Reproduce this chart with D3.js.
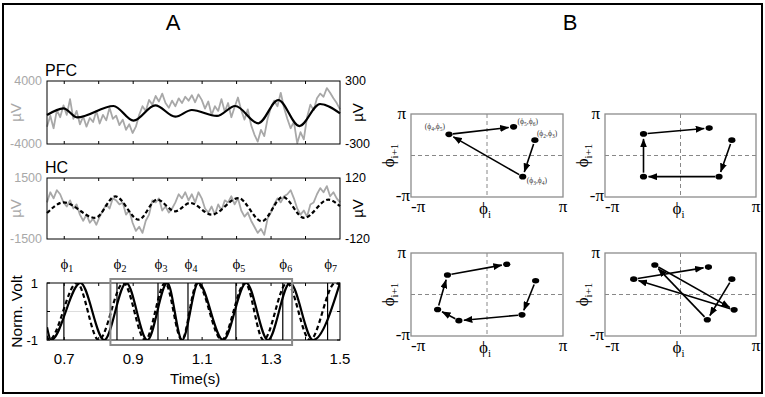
<!DOCTYPE html>
<html><head><meta charset="utf-8">
<script src="https://cdn.jsdelivr.net/npm/d3@7/dist/d3.min.js"></script>
<style>body{margin:0;background:#fff}svg{display:block}</style>
</head><body>
<svg id="c" width="765" height="397"></svg>
<script>
// ---------------- DATA ----------------
const timeDomain = [0.65, 1.5];
const xTicks = [0.7, 0.8, 0.9, 1.0, 1.1, 1.2, 1.3, 1.4];
const xTickLabels = [0.7, 0.9, 1.1, 1.3, 1.5];
const pfcRange = [-4000, 4000], pfcFiltRange = [-300, 300];
const hcRange = [-1500, 1500], hcFiltRange = [-120, 120];
const pfcTickLabels = ["4000", "-4000"], pfcFiltTickLabels = ["300", "-300"];
const hcTickLabels = ["1500", "-1500"], hcFiltTickLabels = ["120", "-120"];

// raw LFP (µV), evenly sampled over the time window
const pfcRaw = [-1800,-400,-2000,300,-600,900,-300,1700,-800,200,-1500,-500,-1800,-700,-1200,200,-1400,-300,-1000,600,
 -800,-400,-1600,-900,-2200,-1500,-2600,-1800,-300,800,200,1600,1000,2100,1400,2400,1200,600,1500,800,
 1800,1200,2000,1500,2200,1300,2300,1600,500,1400,-300,800,200,1700,100,1200,-600,700,1900,300,
 -900,400,-1600,-2800,-3700,-2200,-3000,-800,600,1500,800,2500,600,-800,-2000,-1200,-3900,-2500,-3400,-600,
 1000,300,1800,2400,2000,3100,2500,1800,1200,400];
const hcRaw = [300,800,500,900,700,300,100,400,0,200,-300,-600,-300,-700,-500,-800,-400,-100,200,0,
 500,400,200,300,-300,-100,-700,-1100,-900,-1200,-600,-300,400,300,500,-100,100,-200,0,300,
 700,500,800,400,700,300,800,500,0,-200,100,-300,200,-100,400,300,600,200,500,-100,
 -400,-200,-600,-900,-1200,-1000,-1300,-500,-200,200,500,300,600,700,900,500,0,-300,-100,-400,
 200,300,700,1000,800,1100,600,800,500,300];

// theta-filtered signals (µV): extremum times and values
const pfcFiltT = [0.65,0.698,0.737,0.843,0.901,0.964,1.022,1.070,1.143,1.196,1.263,1.321,1.382,1.442,1.5];
const pfcFiltV = [-24,40,-46,62,-78,68,-40,24,-33,62,-103,119,-129,81,-8];
const hcFiltT = [0.65,0.698,0.790,0.848,0.916,0.969,1.022,1.065,1.128,1.205,1.273,1.334,1.396,1.466,1.5];
const hcFiltV = [-18,24,-37,48,-44,35,-11,22,-24,41,-50,45,-37,35,9];

// normalized theta (solid = PFC, dashed = HC)
const pfcNormT = [0.65,0.662,0.747,0.816,0.880,0.941,0.999,1.042,1.089,1.161,1.228,1.291,1.355,1.422,1.5];
const pfcNormV = [-0.55,-1,1,-1,1,-1,1,-1,1,-1,1,-1,1,-1,1];
const hcNormT = [0.65,0.656,0.737,0.800,0.872,0.935,0.993,1.041,1.086,1.157,1.225,1.278,1.346,1.413,1.486,1.5];
const hcNormV = [-0.85,-1,1,-1,1,-1,1,-1,1,-1,1,-1,1,-1,1,0.95];
const normTicks = [-1, 0, 1];
const phiTimes = [0.699, 0.853, 0.972, 1.059, 1.198, 1.334, 1.464];
const phiLabels = ["1","2","3","4","5","6","7"];
const windowT = [0.834, 1.361];

// Panel B return maps: (phi_i, phi_i+1) in units of pi
const mapTL = [[0.63,0.37],[0.47,-0.51],[-0.50,0.51],[0.35,0.69]];
const mapTLLabels = [["2","3"],["3","4"],["4","5"],["5","6"]];
const mapTR = [[0.68,0.37],[0.51,-0.51],[-0.49,-0.51],[-0.49,0.52],[0.38,0.66]];
const mapBL = [[0.64,0.33],[0.46,-0.49],[-0.37,-0.63],[-0.65,-0.36],[-0.52,0.47],[0.26,0.73]];
const mapBR = [[0.68,0.37],[0.355,-0.61],[-0.34,0.71],[0.71,-0.37],[-0.62,0.37],[0.37,0.66]];

// ---------------- DRAWING ----------------
const svg = d3.select("#c");
const SANS = "'Liberation Sans', Arial, sans-serif";
const SERIF = "'Liberation Serif', 'DejaVu Serif', serif";
const GRAY = "#a8a8a8";

svg.append("rect").attr("x",3).attr("y",4).attr("width",759).attr("height",389)
  .attr("fill","none").attr("stroke","#000").attr("stroke-width",2);

svg.append("text").attr("x",173).attr("y",30).attr("text-anchor","middle")
  .attr("font-family",SANS).attr("font-size",22).text("A");
svg.append("text").attr("x",570).attr("y",30).attr("text-anchor","middle")
  .attr("font-family",SANS).attr("font-size",22).text("B");

const x = d3.scaleLinear().domain(timeDomain).range([47, 340]);
const rawT = d3.range(pfcRaw.length).map(i => timeDomain[0] + i*(timeDomain[1]-timeDomain[0])/(pfcRaw.length-1));

function tracePanel(top, bottom, title, rangeL, rangeR, lblL, lblR, raw, ft, fv, dashed) {
  const yL = d3.scaleLinear().domain(rangeL).range([bottom, top]);
  const yR = d3.scaleLinear().domain(rangeR).range([bottom, top]);
  const g = svg.append("g");
  g.append("text").attr("x",45).attr("y",top-5).attr("font-family",SANS).attr("font-size",16).text(title);
  xTicks.forEach(t => {
    g.append("line").attr("x1",x(t)).attr("x2",x(t)).attr("y1",top).attr("y2",top+3).attr("stroke","#000");
    g.append("line").attr("x1",x(t)).attr("x2",x(t)).attr("y1",bottom).attr("y2",bottom-3).attr("stroke","#000");
  });
  g.append("path").datum(raw.map((v,i)=>[rawT[i],v]))
    .attr("d", d3.line().x(d=>x(d[0])).y(d=>yL(d[1])))
    .attr("fill","none").attr("stroke",GRAY).attr("stroke-width",1.8).attr("stroke-linejoin","round");
  g.append("path").datum(ft.map((t,i)=>[t,fv[i]]))
    .attr("d", d3.line().curve(d3.curveMonotoneX).x(d=>x(d[0])).y(d=>yR(d[1])))
    .attr("fill","none").attr("stroke","#000").attr("stroke-width",2.2)
    .attr("stroke-dasharray", dashed ? "4,2.5" : null);
  g.append("rect").attr("x",47).attr("y",top).attr("width",293).attr("height",bottom-top)
    .attr("fill","none").attr("stroke","#000").attr("stroke-width",1);
  g.append("text").attr("x",42).attr("y",yL(rangeL[1])+4).attr("text-anchor","end")
    .attr("font-family",SANS).attr("font-size",12.5).attr("fill",GRAY).text(lblL[0]);
  g.append("text").attr("x",42).attr("y",yL(rangeL[0])+4).attr("text-anchor","end")
    .attr("font-family",SANS).attr("font-size",12.5).attr("fill",GRAY).text(lblL[1]);
  g.append("text").attr("x",345).attr("y",yR(rangeR[1])+4)
    .attr("font-family",SANS).attr("font-size",12.5).text(lblR[0]);
  g.append("text").attr("x",345).attr("y",yR(rangeR[0])+4)
    .attr("font-family",SANS).attr("font-size",12.5).text(lblR[1]);
  const mid = (top+bottom)/2;
  g.append("text").attr("transform",`translate(21,${mid}) rotate(-90)`).attr("text-anchor","middle")
    .attr("font-family",SANS).attr("font-size",15).attr("fill",GRAY).text("µV");
  g.append("text").attr("transform",`translate(363,${mid}) rotate(-90)`).attr("text-anchor","middle")
    .attr("font-family",SANS).attr("font-size",15).text("µV");
}
tracePanel(81, 144, "PFC", pfcRange, pfcFiltRange, pfcTickLabels, pfcFiltTickLabels, pfcRaw, pfcFiltT, pfcFiltV, false);
tracePanel(178, 239, "HC", hcRange, hcFiltRange, hcTickLabels, hcFiltTickLabels, hcRaw, hcFiltT, hcFiltV, true);

(function(){
  const top = 283, bottom = 340;
  const y = d3.scaleLinear().domain([-1,1]).range([bottom, top]);
  const g = svg.append("g");
  g.append("clipPath").attr("id","clipN").append("rect").attr("x",47).attr("y",top).attr("width",293).attr("height",bottom-top);
  g.append("line").attr("x1",47).attr("x2",340).attr("y1",y(0)).attr("y2",y(0)).attr("stroke","#ddd").attr("stroke-width",1);
  xTicks.forEach(t => {
    g.append("line").attr("x1",x(t)).attr("x2",x(t)).attr("y1",bottom).attr("y2",bottom-3).attr("stroke","#000");
    g.append("line").attr("x1",x(t)).attr("x2",x(t)).attr("y1",top).attr("y2",top+3).attr("stroke","#000");
  });
  normTicks.forEach(v => {
    g.append("line").attr("x1",47).attr("x2",50).attr("y1",y(v)).attr("y2",y(v)).attr("stroke","#000");
    g.append("line").attr("x1",340).attr("x2",337).attr("y1",y(v)).attr("y2",y(v)).attr("stroke","#000");
  });
  phiTimes.forEach(t => {
    g.append("line").attr("x1",x(t)).attr("x2",x(t)).attr("y1",top).attr("y2",bottom).attr("stroke","#000").attr("stroke-width",1.2);
  });
  const cg = g.append("g").attr("clip-path","url(#clipN)");
  const ln = d3.line().curve(d3.curveMonotoneX).x(d=>x(d[0])).y(d=>y(d[1]));
  cg.append("path").datum(pfcNormT.map((t,i)=>[t,pfcNormV[i]])).attr("d",ln)
    .attr("fill","none").attr("stroke","#000").attr("stroke-width",2.2);
  cg.append("path").datum(hcNormT.map((t,i)=>[t,hcNormV[i]])).attr("d",ln)
    .attr("fill","none").attr("stroke","#000").attr("stroke-width",2.2).attr("stroke-dasharray","4.5,3");
  g.append("rect").attr("x",47).attr("y",top).attr("width",293).attr("height",bottom-top)
    .attr("fill","none").attr("stroke","#000").attr("stroke-width",1);
  g.append("rect").attr("x",x(windowT[0])).attr("y",top-4).attr("width",x(windowT[1])-x(windowT[0])).attr("height",bottom-top+9)
    .attr("fill","none").attr("stroke","#8a8a8a").attr("stroke-width",2);
  g.append("text").attr("x",38).attr("y",y(1)+5).attr("text-anchor","end").attr("font-family",SANS).attr("font-size",13).text("1");
  g.append("text").attr("x",38).attr("y",y(-1)+5).attr("text-anchor","end").attr("font-family",SANS).attr("font-size",13).text("-1");
  g.append("text").attr("transform",`translate(22,${(top+bottom)/2}) rotate(-90)`).attr("text-anchor","middle")
    .attr("font-family",SANS).attr("font-size",15.5).text("Norm. Volt");
  xTickLabels.forEach(t => {
    g.append("text").attr("x",x(t)).attr("y",364).attr("text-anchor","middle").attr("font-family",SANS).attr("font-size",15).text(t.toFixed(1));
  });
  g.append("text").attr("x",x(1.08)).attr("y",384).attr("text-anchor","middle").attr("font-family",SANS).attr("font-size",15).text("Time(s)");
  phiTimes.forEach((t,i) => {
    const tx = g.append("text").attr("x",x(t)+3).attr("y",269).attr("text-anchor","middle").attr("font-family",SERIF).attr("font-size",15);
    tx.append("tspan").text("ϕ");
    tx.append("tspan").attr("dy",3).attr("font-size",10).text(phiLabels[i]);
  });
})();

svg.append("defs").append("marker").attr("id","ah").attr("markerUnits","userSpaceOnUse")
  .attr("markerWidth",9).attr("markerHeight",7).attr("refX",8.5).attr("refY",3.5).attr("orient","auto")
  .append("path").attr("d","M0,0 L9,3.5 L0,7 Z").attr("fill","#000");

function returnMap(x0, x1, y0, y1, pts, labels) {
  const sx = d3.scaleLinear().domain([-1,1]).range([x0,x1]);
  const sy = d3.scaleLinear().domain([-1,1]).range([y1,y0]);
  const g = svg.append("g");
  g.append("line").attr("x1",sx(0)).attr("x2",sx(0)).attr("y1",y0).attr("y2",y1)
    .attr("stroke","#888").attr("stroke-dasharray","4,3");
  g.append("line").attr("x1",x0).attr("x2",x1).attr("y1",sy(0)).attr("y2",sy(0))
    .attr("stroke","#888").attr("stroke-dasharray","4,3");
  g.append("rect").attr("x",x0).attr("y",y0).attr("width",x1-x0).attr("height",y1-y0)
    .attr("fill","none").attr("stroke","#8c8c8c").attr("stroke-width",1.3);
  for (let i=0;i<pts.length-1;i++){
    const ax=sx(pts[i][0]), ay=sy(pts[i][1]), bx=sx(pts[i+1][0]), by=sy(pts[i+1][1]);
    const L=Math.hypot(bx-ax,by-ay), ux=(bx-ax)/L, uy=(by-ay)/L;
    g.append("line").attr("x1",ax+ux*4).attr("y1",ay+uy*4).attr("x2",bx-ux*5).attr("y2",by-uy*5)
      .attr("stroke","#000").attr("stroke-width",1.6).attr("marker-end","url(#ah)");
  }
  pts.forEach(p => g.append("ellipse").attr("cx",sx(p[0])).attr("cy",sy(p[1])).attr("rx",3.6).attr("ry",2.8).attr("fill","#000"));
  const fs = 17;
  g.append("text").attr("x",x0-5).attr("y",y0+5).attr("text-anchor","end").attr("font-family",SERIF).attr("font-size",fs).text("π");
  g.append("text").attr("x",x0-1).attr("y",y1+4).attr("text-anchor","end").attr("font-family",SERIF).attr("font-size",fs).text("-π");
  g.append("text").attr("x",x0).attr("y",y1+15).attr("font-family",SERIF).attr("font-size",fs).text("-π");
  g.append("text").attr("x",x1).attr("y",y1+15).attr("text-anchor","middle").attr("font-family",SERIF).attr("font-size",fs).text("π");
  const xl = g.append("text").attr("x",sx(0)-2).attr("y",y1+17).attr("text-anchor","middle").attr("font-family",SERIF).attr("font-size",fs);
  xl.append("tspan").text("ϕ"); xl.append("tspan").attr("dy",4).attr("font-size",11).text("i");
  const yl = g.append("text").attr("transform",`translate(${x0-17},${sy(0)}) rotate(-90)`).attr("text-anchor","middle")
    .attr("font-family",SERIF).attr("font-size",fs);
  yl.append("tspan").text("ϕ"); yl.append("tspan").attr("dy",4).attr("font-size",11).text("i+1");
  if (labels) {
    const offs = [[2,-4,"start"],[4,6,"start"],[-4,-5,"end"],[4,-3,"start"]];
    labels.forEach((lb,i) => {
      const t = g.append("text").attr("x",sx(pts[i][0])+offs[i][0]).attr("y",sy(pts[i][1])+offs[i][1])
        .attr("text-anchor",offs[i][2]).attr("font-family",SERIF).attr("font-size",7.5).attr("fill","#333");
      t.append("tspan").text("(ϕ");
      t.append("tspan").attr("dy",2).attr("font-size",5.5).text(lb[0]);
      t.append("tspan").attr("dy",-2).text(",ϕ");
      t.append("tspan").attr("dy",2).attr("font-size",5.5).text(lb[1]);
      t.append("tspan").attr("dy",-2).text(")");
    });
  }
}
returnMap(411, 563, 114, 197, mapTL, mapTLLabels);
returnMap(605, 756, 114, 197, mapTR, null);
returnMap(411, 563, 253, 336, mapBL, null);
returnMap(605, 756, 253, 336, mapBR, null);
</script>
</body></html>
